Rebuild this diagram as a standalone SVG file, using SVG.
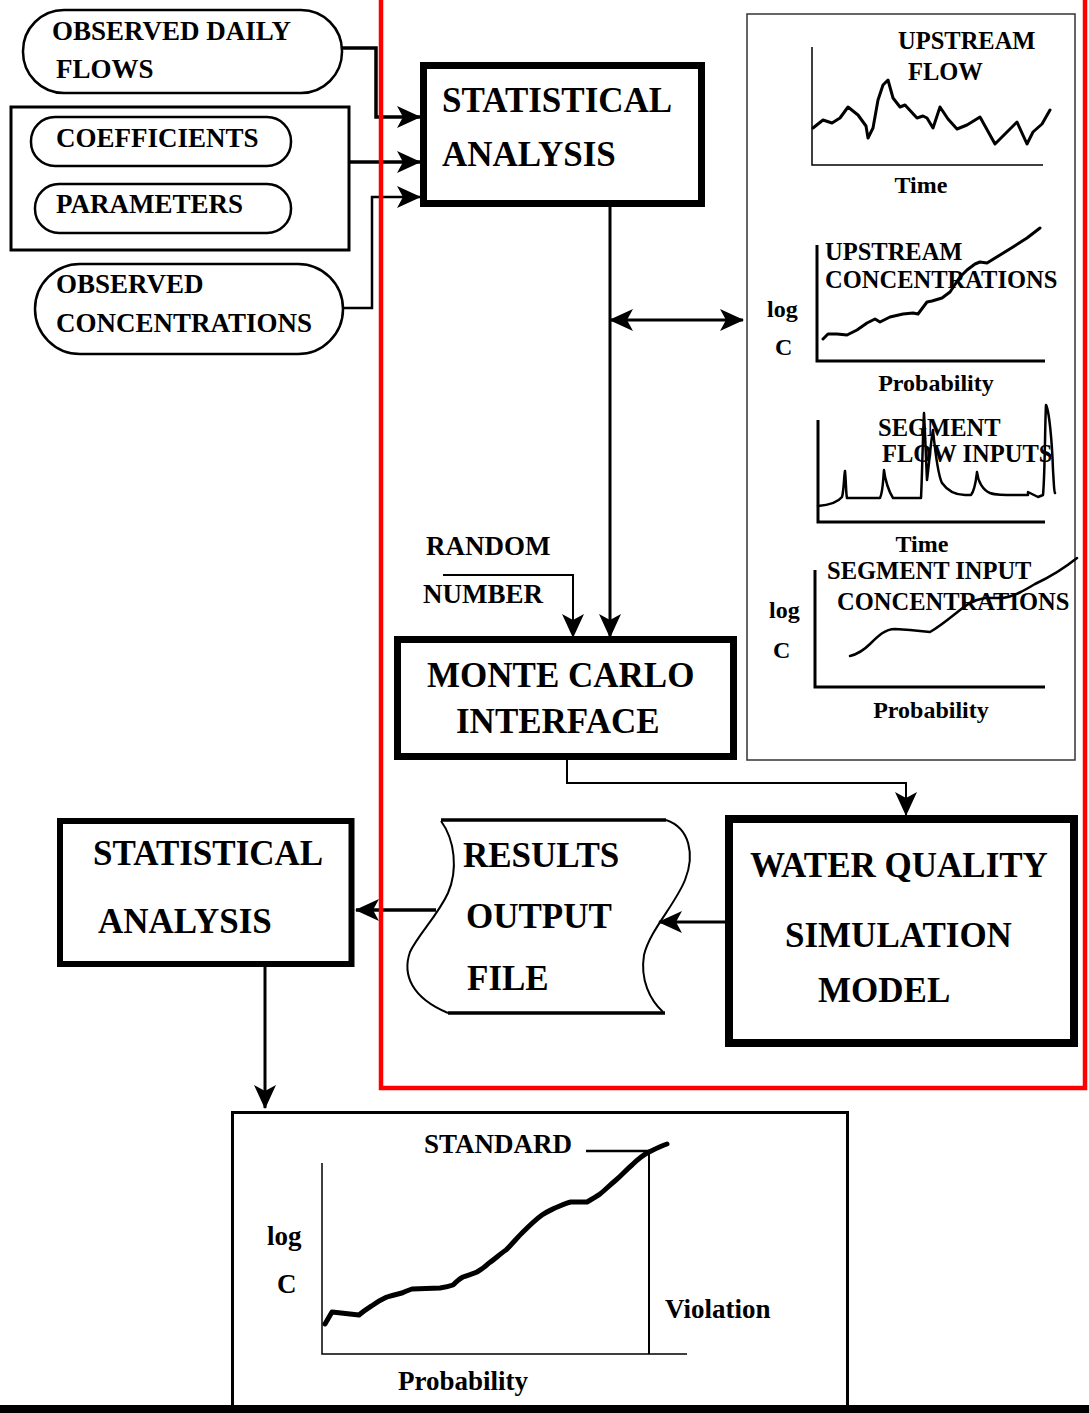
<svg xmlns="http://www.w3.org/2000/svg" width="1089" height="1413" viewBox="0 0 1089 1413">
<style>
text{font-family:"Liberation Serif","Times New Roman",serif;font-weight:bold;fill:#000}
.t27{font-size:27px}
.t35{font-size:35px}
.t25{font-size:24.5px}
.t24{font-size:24px}
.mid{text-anchor:middle}
.box{fill:#fff;stroke:#000}
.ln{fill:none;stroke:#000}
.curve{fill:none;stroke:#000;stroke-linejoin:round;stroke-linecap:round}
</style>
<defs>
<marker id="ah" markerUnits="userSpaceOnUse" markerWidth="24" markerHeight="24" viewBox="0 0 24 24" refX="23" refY="12" orient="auto-start-reverse">
<path d="M0,1 L24,12 L0,23 L6,12 z" fill="#000"/>
</marker>
</defs>
<rect width="1089" height="1413" fill="#fff"/>

<g id="input-flows">
<rect class="box" x="23" y="10" width="319" height="83" rx="41" stroke-width="2.5"/>
<text class="t27" x="52" y="40">OBSERVED DAILY</text>
<text class="t27" x="56" y="78">FLOWS</text>
</g>
<g id="input-group">
<rect class="box" x="11" y="107" width="338" height="143" stroke-width="3"/>
</g>
<g id="input-coefficients">
<rect class="box" x="31" y="117" width="260" height="49" rx="24" stroke-width="2.5"/>
<text class="t27" x="56" y="147">COEFFICIENTS</text>
</g>
<g id="input-parameters">
<rect class="box" x="35" y="184" width="256" height="49" rx="24" stroke-width="2.5"/>
<text class="t27" x="56" y="213">PARAMETERS</text>
</g>
<g id="input-concentrations">
<rect class="box" x="35" y="264" width="308" height="90" rx="45" stroke-width="2.5"/>
<text class="t27" x="56" y="293">OBSERVED</text>
<text class="t27" x="56" y="332">CONCENTRATIONS</text>
</g>

<g id="stat-analysis-1">
<rect class="box" x="423.5" y="65.5" width="278" height="138" stroke-width="7"/>
<text class="t35" x="442" y="112">STATISTICAL</text>
<text class="t35" x="442" y="166">ANALYSIS</text>
</g>

<g id="input-panel">
<rect x="747" y="14" width="328" height="746" fill="#fff" stroke="#333" stroke-width="1.5"/>
<!-- upstream flow -->
<path class="ln" d="M812,47 V165 H1043" stroke-width="1.5"/>
<text class="t25" x="898" y="49">UPSTREAM</text>
<text class="t25" x="908" y="80">FLOW</text>
<text class="t24 mid" x="921" y="193">Time</text>
<polyline class="curve" stroke-width="3" points="813,128 823,120 832,123 840,118 848,107 858,115 866,126 868,138 873,128 878,100 883,85 888,80 893,98 900,107 905,105 917,118 923,116 927,118 933,128 940,107 948,119 957,129 967,125 980,117 995,144 1007,132 1017,122 1027,144 1033,132 1042,124 1050,110"/>
<!-- upstream concentrations -->
<path class="ln" d="M817,245 V361 H1045" stroke-width="3"/>
<text class="t25" x="825" y="260">UPSTREAM</text>
<text class="t25" x="825" y="288">CONCENTRATIONS</text>
<text class="t24" x="767" y="317">log</text>
<text class="t24" x="775" y="355">C</text>
<text class="t24 mid" x="936" y="391">Probability</text>
<polyline class="curve" stroke-width="3" points="823,339 828,334 837,334 847,335 857,330 867,323 875,319 880,322 890,317 903,314 913,313 918,314 927,302 932,301 942,298 950,292 960,277 967,270 975,264 980,262 987,263 1000,255 1013,247 1027,238 1040,228"/>
<!-- segment flow inputs -->
<path class="ln" d="M818,420 V522 H1045" stroke-width="3"/>
<text class="t25" x="878" y="436">SEGMENT</text>
<text class="t25" x="882" y="462">FLOW INPUTS</text>
<text class="t24 mid" x="922" y="552">Time</text>
<path class="curve" stroke-width="2.5" d="M818,506 C830,505 838,502 842,497 C844,490 844,475 845,471 C846,480 846,495 847,498 L880,498 C883,492 883,480 884,470 C885,480 889,492 893,498 L921,498 C922,480 923,430 924,413 C925,430 926,460 927,480 C929,465 931,440 933,430 C935,450 938,475 942,483 C947,490 955,495 965,495 L971,495 C975,490 976,480 977,472 C978,482 983,490 990,493 C995,495 1000,495 1028,495 L1028,492 L1038,497 L1043,495 C1045,475 1045,420 1046,405 C1049,410 1052,440 1053,470 C1054,485 1054,492 1055,493"/>
<!-- segment input concentrations -->
<path class="ln" d="M815,570 V687 H1045" stroke-width="3"/>
<text class="t25" x="827" y="579">SEGMENT INPUT</text>
<text class="t25" x="837" y="610">CONCENTRATIONS</text>
<text class="t24" x="769" y="618">log</text>
<text class="t24" x="773" y="658">C</text>
<text class="t24 mid" x="931" y="718">Probability</text>
<path class="curve" stroke-width="2.5" d="M850,656 C858,654 864,650 870,644 C878,636 885,629 895,629 L910,630 L930,632 C937,628 945,622 955,614 C965,606 972,600 985,598 L1003,598 C1015,596 1025,590 1035,584 C1050,577 1062,570 1077,558"/>
</g>

<g id="random-number">
<text class="t27" x="426" y="555">RANDOM</text>
<text class="t27" x="423" y="603">NUMBER</text>
</g>

<g id="monte-carlo">
<rect class="box" x="397.5" y="639.5" width="336" height="117" stroke-width="7"/>
<text class="t35" x="427" y="687">MONTE CARLO</text>
<text class="t35" x="456" y="733">INTERFACE</text>
</g>

<g id="water-quality-model">
<rect class="box" x="729" y="819" width="345" height="224" stroke-width="8"/>
<text class="t35" x="750" y="877">WATER QUALITY</text>
<text class="t35" x="785" y="947">SIMULATION</text>
<text class="t35" x="818" y="1002">MODEL</text>
</g>

<g id="results-output-file">
<path d="M441,821 C455,840 458,870 448,893 C438,915 418,935 410,952 C402,975 412,998 448,1013 L665,1013 C650,1000 640,980 644,955 C650,930 675,905 685,880 C695,855 690,828 666,820 Z" fill="#fff" stroke="none"/>
<path class="ln" d="M441,821 C455,840 458,870 448,893 C438,915 418,935 410,952 C402,975 412,998 448,1013" stroke-width="2"/>
<path class="ln" d="M666,820 C690,828 695,855 685,880 C675,905 650,930 644,955 C640,980 650,1000 663,1012" stroke-width="2"/>
<path class="ln" d="M441,820 H666 M448,1013 H665" stroke-width="3.5"/>
<text class="t35" x="463" y="867">RESULTS</text>
<text class="t35" x="466" y="928">OUTPUT</text>
<text class="t35" x="467" y="990">FILE</text>
</g>

<g id="stat-analysis-2">
<rect class="box" x="60" y="821" width="291.5" height="143" stroke-width="6"/>
<text class="t35" x="93" y="865">STATISTICAL</text>
<text class="t35" x="98" y="933">ANALYSIS</text>
</g>

<g id="result-chart">
<rect class="box" x="232.5" y="1112.5" width="615" height="320" stroke-width="3"/>
<path class="ln" d="M322,1163 V1354 H687" stroke="#444" stroke-width="1.5"/>
<path class="ln" d="M649,1150 V1354" stroke-width="2"/>
<path class="ln" d="M586,1151 H649" stroke-width="2.5"/>
<text class="t27" x="424" y="1153">STANDARD</text>
<text class="t27" x="267" y="1245">log</text>
<text class="t27" x="277" y="1293">C</text>
<text class="t27" x="665" y="1318">Violation</text>
<text class="t27" x="398" y="1390">Probability</text>
<path class="curve" stroke-width="5" d="M325,1324 L332,1312 L359,1315 C365,1310 370,1307 373,1305 C380,1300 385,1298 387,1297 C393,1295 398,1294 402,1293 C406,1291 409,1290 412,1289 L440,1288 C446,1287 450,1286 453,1285 C456,1282 459,1279 463,1277 C468,1275 473,1274 477,1272 C482,1269 486,1266 489,1263 C495,1259 500,1254 506,1250 C512,1244 517,1238 522,1233 C528,1227 535,1220 542,1215 C548,1211 551,1210 555,1208 C560,1206 566,1203 571,1202 L587,1202 C592,1199 596,1197 600,1194 C605,1190 610,1185 616,1180 C622,1175 626,1170 632,1165 C637,1160 643,1155 649,1152 C655,1149 661,1146 667,1144"/>
</g>

<g id="connectors">
<path class="ln" d="M342,48 H376 V117 H420" stroke-width="3.5" marker-end="url(#ah)"/>
<path class="ln" d="M349,162 H420" stroke-width="3.5" marker-end="url(#ah)"/>
<path class="ln" d="M343,308 H372 V197 H420" stroke-width="2.5" marker-end="url(#ah)"/>
<path class="ln" d="M610,207 V637" stroke-width="3" marker-end="url(#ah)"/>
<path class="ln" d="M610,320 H743" stroke-width="3" marker-start="url(#ah)" marker-end="url(#ah)"/>
<path class="ln" d="M443,575 H573 V637" stroke-width="2" marker-end="url(#ah)"/>
<path class="ln" d="M567,760 V783 H906 V815" stroke-width="2" marker-end="url(#ah)"/>
<path class="ln" d="M725,922 H659" stroke-width="3" marker-end="url(#ah)"/>
<path class="ln" d="M436,910 H356" stroke-width="3.5" marker-end="url(#ah)"/>
<path class="ln" d="M265,967 V1108" stroke-width="3" marker-end="url(#ah)"/>
</g>

<g id="simulation-boundary">
<rect x="381" y="-10" width="704" height="1098" fill="none" stroke="#f00" stroke-width="4.5"/>
</g>

<rect x="0" y="1405" width="1089" height="8" fill="#000"/>
</svg>
